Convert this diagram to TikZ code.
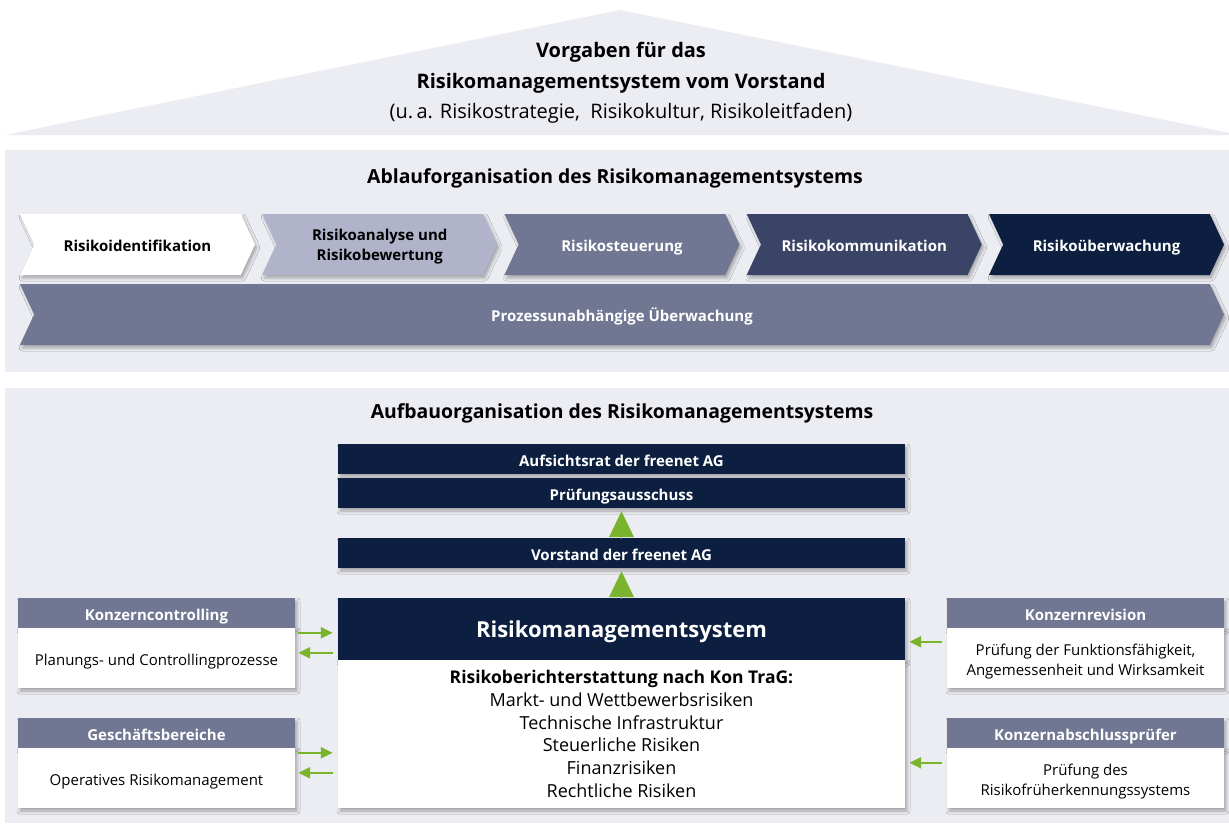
\documentclass[tikz,border=0pt]{standalone}
\usepackage{fontspec}
\setmainfont{Open Sans}
\usepackage{xcolor}
\usetikzlibrary{arrows.meta,shapes.symbols,shadows.blur}

\definecolor{panelgray}{RGB}{236,237,242}
\definecolor{chevlight}{RGB}{176,179,201}
\definecolor{chevmid}{RGB}{113,119,146}
\definecolor{chevdark}{RGB}{58,68,102}
\definecolor{navy}{RGB}{12,31,64}
\definecolor{leafgreen}{RGB}{122,180,44}

\begin{document}
\begin{tikzpicture}[
  x=1pt, y=-1pt,
  font=\fontsize{15}{20}\selectfont,
  >={Triangle[length=12pt,width=11pt]},
  panel/.style={fill=panelgray},
  capline/.style={text height=14pt, text depth=0pt},
  twoline/.style={text height=34pt, text depth=0pt},
  heading/.style={font=\fontsize{19.4}{23}\selectfont\bfseries, inner sep=0pt,
                anchor=base},
  softshadow/.style={blur shadow={shadow xshift=2pt, shadow yshift=-3pt,
                shadow blur radius=3pt, shadow opacity=30}},
  chevron/.style={shape=signal, signal from=west, signal to=east,
                signal pointer angle=130, minimum height=61pt, inner sep=2pt,
                font=\fontsize{15}{20}\selectfont\bfseries, align=center,
                capline, softshadow},
  navybox/.style={fill=navy, text=white, minimum width=567pt,
                minimum height=30pt, inner sep=0pt,
                font=\fontsize{15}{17}\selectfont\bfseries, capline, softshadow},
  headbox/.style={fill=chevmid, text=white, minimum width=277pt,
                minimum height=30pt, inner sep=0pt,
                font=\fontsize{15}{17}\selectfont\bfseries, capline, softshadow},
  bodybox/.style={fill=white, minimum width=277pt, minimum height=60pt,
                inner sep=0pt, align=center, capline, softshadow},
  greenflow/.style={->, line width=2.5pt, leafgreen},
  upflow/.style={-{Triangle[length=26pt,width=25pt]}, line width=0pt,
                leafgreen}]

\useasboundingbox (0,0) rectangle (1229,823);
\fill[white] (0,0) rectangle (1229,823);

%% ---- tejado: vorgaben del vorstand ----
\fill[panel] (5,135) -- (620,10) -- (1229,133) -- (1229,135) -- cycle;
\node[align=center, inner sep=0pt, font=\fontsize{20}{30.5}\selectfont] (vorgaben) at (621,83)
  {\textbf{Vorgaben für das}\\
   \textbf{Risikomanagementsystem vom Vorstand}\\
   (u.\,a. Risikostrategie, \ Risikokultur, Risikoleitfaden)};

%% ---- ablauforganisation ----
\fill[panel] (5,150) rectangle (1229,372);
\node[heading] (ablauf) at (615,183) {Ablauforganisation des Risikomanagementsystems};

\node[chevron, fill=white, minimum width=235pt] (ident) at (137.5,244.5)
  {Risikoidentifikation};
\node[chevron, fill=chevlight, minimum width=235pt, text height=32pt]
  (analyse) at (379.75,244.5) {Risikoanalyse und\\ Risikobewertung};
\node[chevron, fill=chevmid, text=white, minimum width=235pt] (steuer) at (622,244.5)
  {Risikosteuerung};
\node[chevron, fill=chevdark, text=white, minimum width=235pt] (komm) at (864.25,244.5)
  {Risikokommunikation};
\node[chevron, fill=navy, text=white, minimum width=235pt] (ueberw) at (1106.5,244.5)
  {Risikoüberwachung};

\node[chevron, fill=chevmid, text=white, minimum width=1204pt] (prozess) at (622,314.5)
  {Prozessunabhängige Überwachung};

%% ---- aufbauorganisation ----
\fill[panel] (5,388) rectangle (1229,823);
\node[heading] (aufbau) at (622,418) {Aufbauorganisation des Risikomanagementsystems};

\node[navybox] (aufsicht) at (621.5,459) {Aufsichtsrat der freenet AG};
\node[navybox] (pruef) at (621.5,493) {Prüfungsausschuss};
\node[navybox] (vorstand) at (621.5,553) {Vorstand der freenet AG};

\node[navybox, minimum height=62pt, text height=16pt,
      font=\fontsize{22}{26}\selectfont\bfseries]
  (rmshead) at (621.5,629) {Risikomanagementsystem};
\node[fill=white, minimum width=567pt, minimum height=148pt, inner sep=0pt,
      align=center, font=\fontsize{18}{22.7}\selectfont, softshadow]
  (rms) at (621.5,734)
  {{\fontsize{17.5}{22.7}\selectfont\bfseries Risikoberichterstattung nach Kon TraG:}\\
   Markt- und Wettbewerbsrisiken\\ Technische Infrastruktur\\
   Steuerliche Risiken\\ Finanzrisiken\\ Rechtliche Risiken};

% linke seite
\node[headbox] (ctrlhead) at (156.5,613) {Konzerncontrolling};
\node[bodybox] (ctrl) at (156.5,658) {Planungs- und Controllingprozesse};
\node[headbox] (gbhead) at (156.5,733) {Geschäftsbereiche};
\node[bodybox] (gb) at (156.5,778) {Operatives Risikomanagement};

% rechte seite
\node[headbox] (revhead) at (1085.5,613) {Konzernrevision};
\node[bodybox, twoline] (rev) at (1085.5,658)
  {Prüfung der Funktionsfähigkeit,\\ Angemessenheit und Wirksamkeit};
\node[headbox] (abshead) at (1085.5,733) {Konzernabschlussprüfer};
\node[bodybox, twoline] (abs) at (1085.5,778)
  {Prüfung des\\ Risikofrüherkennungssystems};

%% ---- flujo ----
\draw[upflow] ([yshift=-1pt]vorstand.north) -- ([yshift=-3pt]pruef.south);
\draw[upflow] ([yshift=-1pt]rmshead.north) -- ([yshift=-3pt]vorstand.south);

\draw[greenflow, shorten <=3pt, shorten >=5pt]
  ([yshift=-5pt]ctrl.north east) -- ([yshift=-5pt]ctrl.north east -| rms.west);
\draw[greenflow, shorten <=5pt, shorten >=3pt]
  ([yshift=-25pt]ctrl.north east -| rms.west) -- ([yshift=-25pt]ctrl.north east);
\draw[greenflow, shorten <=3pt, shorten >=5pt]
  ([yshift=-5pt]gb.north east) -- ([yshift=-5pt]gb.north east -| rms.west);
\draw[greenflow, shorten <=5pt, shorten >=3pt]
  ([yshift=-25pt]gb.north east -| rms.west) -- ([yshift=-25pt]gb.north east);

\draw[greenflow, shorten <=5pt, shorten >=4pt]
  ([yshift=-14pt]rev.north west) -- ([yshift=-14pt]rev.north west -| rms.east);
\draw[greenflow, shorten <=5pt, shorten >=4pt]
  ([yshift=-15pt]abs.north west) -- ([yshift=-15pt]abs.north west -| rms.east);
\end{tikzpicture}
\end{document}
